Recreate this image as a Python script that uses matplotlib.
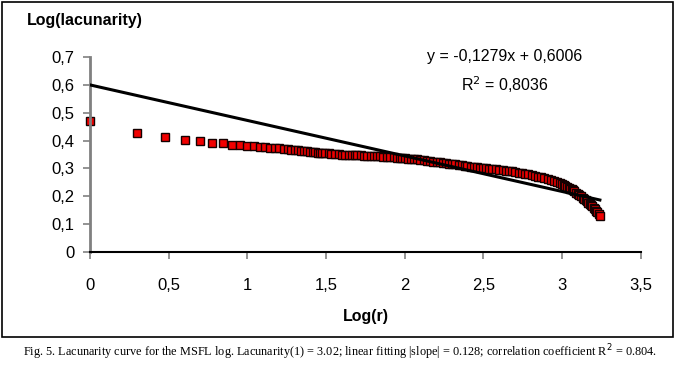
import numpy as np
import matplotlib
matplotlib.use("Agg")
import matplotlib.pyplot as plt
from matplotlib.patches import Rectangle

# box size r and measured log(lacunarity)
r = [1, 2, 3, 4, 5, 6, 7, 8, 9, 10, 11, 12, 13, 14, 15, 16, 17, 18, 20, 22,
     24, 26, 28, 30, 33, 36, 40, 44, 48, 53, 58, 64, 70, 77, 85, 93, 100, 110,
     120, 132, 145, 160, 175, 190, 210, 230, 250, 275, 300, 330, 360, 400, 440,
     480, 530, 580, 640, 700, 770, 850, 930, 1000, 1050, 1100, 1150, 1200, 1260,
     1320, 1380, 1440, 1500, 1560, 1620, 1680, 1740]
log_lac = [0.469, 0.426, 0.413, 0.402, 0.397, 0.392, 0.391, 0.386, 0.385, 0.381,
           0.380, 0.378, 0.377, 0.375, 0.374, 0.372, 0.371, 0.370, 0.367, 0.363,
           0.361, 0.359, 0.357, 0.356, 0.354, 0.352, 0.350, 0.349, 0.348, 0.347,
           0.345, 0.344, 0.343, 0.342, 0.340, 0.338, 0.337, 0.334, 0.332, 0.329,
           0.326, 0.323, 0.320, 0.317, 0.314, 0.311, 0.308, 0.305, 0.302, 0.300,
           0.298, 0.295, 0.292, 0.289, 0.285, 0.281, 0.276, 0.270, 0.265, 0.258,
           0.250, 0.243, 0.237, 0.231, 0.224, 0.217, 0.208, 0.199, 0.190, 0.181,
           0.172, 0.163, 0.153, 0.143, 0.130]

# more readings in the dense part of the curve
r_more = [19, 21, 23, 25, 27, 29, 31, 34, 38, 42, 46, 50, 55, 61, 67, 73, 81,
          89, 96, 105, 115, 126, 138, 152, 167, 182, 200, 220, 240, 262, 287,
          315, 345, 380, 420, 460, 505, 555, 610, 670, 735, 810, 890, 965, 1025,
          1075, 1125, 1175, 1230, 1290, 1350, 1410, 1470, 1530, 1590, 1650, 1710]
log_lac_more = [0.368, 0.365, 0.362, 0.360, 0.358, 0.3565, 0.355, 0.353, 0.351,
                0.3495, 0.3485, 0.3475, 0.346, 0.3445, 0.3435, 0.3425, 0.341,
                0.339, 0.3375, 0.3355, 0.333, 0.3305, 0.3275, 0.3245, 0.3215,
                0.3185, 0.3155, 0.3125, 0.3095, 0.3065, 0.3035, 0.301, 0.299,
                0.2965, 0.2935, 0.2905, 0.287, 0.283, 0.2785, 0.273, 0.2675,
                0.2615, 0.254, 0.2465, 0.240, 0.234, 0.2275, 0.2205, 0.2125,
                0.2035, 0.1945, 0.1855, 0.1765, 0.1675, 0.158, 0.148, 0.1365]

slope = -0.1279
intercept = 0.6006
r2 = 0.8036

xticks = [0, 0.5, 1, 1.5, 2, 2.5, 3, 3.5]
yticks = [0, 0.1, 0.2, 0.3, 0.4, 0.5, 0.6, 0.7]

caption = ("Fig. 5. Lacunarity curve for the MSFL log. Lacunarity(1) = 3.02; "
           "linear fitting |slope| = 0.128; correlation coefficient R$^2$ = 0.804.")

plt.rcParams['font.family'] = ['Liberation Sans', 'DejaVu Sans']

x = np.log10(np.array(r + r_more, dtype=float))
y = np.array(log_lac + log_lac_more)
order = np.argsort(x)
x, y = x[order], y[order]

fig = plt.figure(figsize=(6.77, 3.70), dpi=100)
fig.patches.append(Rectangle((2 / 677, 1 - 337 / 370), 671 / 677, 335 / 370,
                             transform=fig.transFigure, fill=False,
                             edgecolor='black', linewidth=1.2))

ax = fig.add_axes([90 / 677, 1 - 251.7 / 370, 550.7 / 677, 194.4 / 370])
ax.plot(x, y, linestyle='none', marker='s', markersize=5.2,
        markerfacecolor='#f00000', markeredgecolor='#140000',
        markeredgewidth=1.0, zorder=2, clip_on=False)
xl = np.array([x[0], x[-1]])
ax.plot(xl, slope * xl + intercept, color='black', linewidth=2.2, zorder=3)

ax.set_xlim(0, 3.5)
ax.set_ylim(0, 0.7)
ax.set_xticks(xticks)
ax.set_yticks(yticks)
ax.set_xticklabels([("%g" % v).replace('.', ',') for v in xticks], fontsize=12)
ax.set_yticklabels([("%g" % v).replace('.', ',') for v in yticks], fontsize=12)
ax.tick_params(axis='both', length=5, width=1.2, color='#808080', pad=6)
ax.tick_params(axis='x', pad=14)
for side in ['top', 'right']:
    ax.spines[side].set_visible(False)
ax.spines['left'].set_color('#808080')
ax.spines['left'].set_linewidth(2)
ax.spines['bottom'].set_color('black')
ax.spines['bottom'].set_linewidth(1.5)
ax.patch.set_alpha(0)

fig.text(27 / 677, 1 - 20 / 370, "Log(lacunarity)", fontsize=11.5,
         fontweight='bold', ha='left', va='center')
fig.text(366 / 677, 1 - 316 / 370, "Log(r)", fontsize=11.5,
         fontweight='bold', ha='center', va='center')
fig.text(505 / 677, 1 - 57 / 370,
         ("y = %.4fx + %.4f" % (slope, intercept)).replace('.', ','),
         fontsize=11.5, ha='center', va='center')
fig.text(505 / 677, 1 - 85 / 370,
         ("R$^2$ = %.4f" % r2).replace('.', ','),
         fontsize=11.5, ha='center', va='center')

fig.text(340 / 677, 1 - 352 / 370, caption, fontsize=8.8,
         family=['Liberation Serif', 'DejaVu Serif'], ha='center', va='center')

fig.savefig("out.png", dpi=100)
